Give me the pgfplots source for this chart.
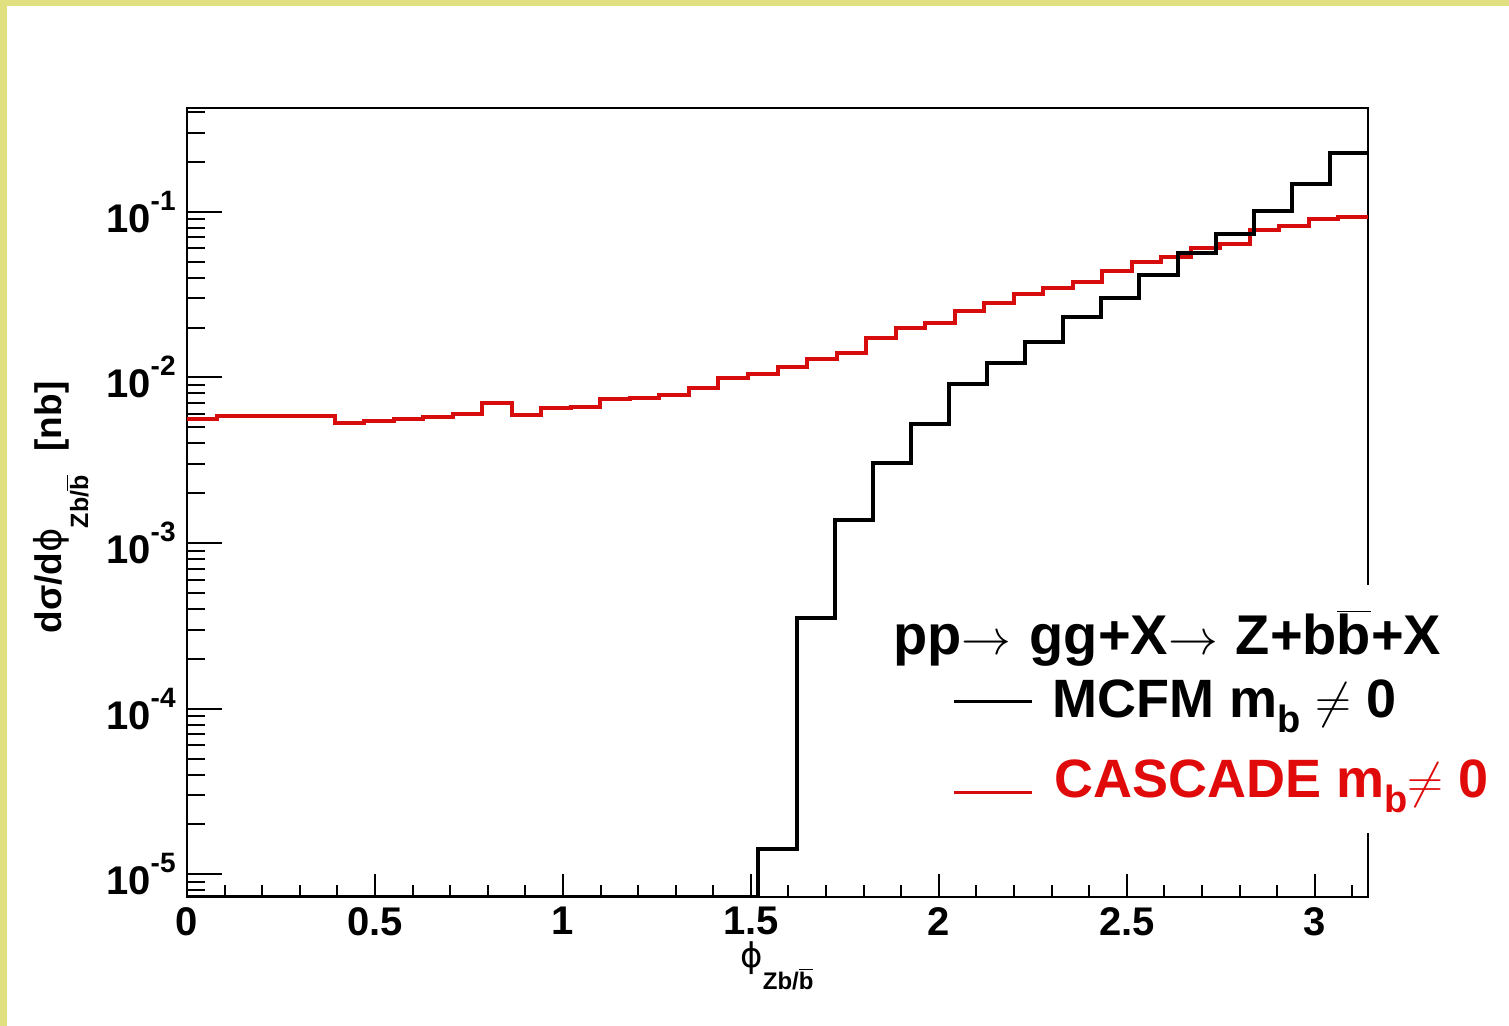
\documentclass[border=0pt]{standalone}
\usepackage{pgfplots}
\pgfplotsset{compat=1.18}
\usepackage{fontspec}
\setmainfont{Liberation Sans}
\newfontfamily\dvs{DejaVu Sans}
\definecolor{frameyel}{RGB}{224,224,128}
\definecolor{histred}{RGB}{215,12,12}
\definecolor{txtred}{RGB}{225,10,10}
\newcommand{\bb}{\ensuremath{\overline{\hbox{b}}}}
\newcommand{\ex}[1]{\raisebox{0.55em}{\fontsize{14}{14}\selectfont #1}}
\newcommand{\phis}{{\dvs\mdseries ϕ}}

\pgfplotstableread{
x y
0.00000 5.61e-3
0.07854 5.85e-3
0.15708 5.85e-3
0.23562 5.85e-3
0.31416 5.85e-3
0.39270 5.33e-3
0.47124 5.46e-3
0.54978 5.61e-3
0.62832 5.80e-3
0.70686 6.02e-3
0.78540 6.98e-3
0.86394 5.93e-3
0.94248 6.55e-3
1.02102 6.60e-3
1.09956 7.38e-3
1.17810 7.55e-3
1.25664 7.83e-3
1.33518 8.60e-3
1.41372 9.90e-3
1.49226 1.045e-2
1.57080 1.16e-2
1.64934 1.30e-2
1.72788 1.40e-2
1.80642 1.72e-2
1.88496 1.98e-2
1.96350 2.14e-2
2.04204 2.53e-2
2.12058 2.81e-2
2.19911 3.20e-2
2.27765 3.46e-2
2.35619 3.79e-2
2.43473 4.40e-2
2.51327 4.94e-2
2.59181 5.33e-2
2.67035 6.04e-2
2.74889 6.41e-2
2.82743 7.71e-2
2.90597 8.15e-2
2.98451 9.07e-2
3.06305 9.29e-2
3.14159 9.29e-2
}\cascade

\pgfplotstableread{
x y
0.00000 7.3e-6
1.52013 1.42e-5
1.62147 3.52e-4
1.72281 1.38e-3
1.82416 3.06e-3
1.92550 5.26e-3
2.02684 9.10e-3
2.12818 1.22e-2
2.22952 1.64e-2
2.33087 2.33e-2
2.43221 3.01e-2
2.53355 4.16e-2
2.63489 5.63e-2
2.73623 7.33e-2
2.83758 0.101
2.93892 0.148
3.04026 0.225
3.14159 0.225
}\mcfm

\begin{document}
\begin{tikzpicture}
\useasboundingbox (0,0) rectangle (754.5pt,513pt);
\fill[frameyel] (0,0) rectangle (754.5pt,513pt);
\fill[white] (3.5pt,0) rectangle (754.5pt,510pt);

% axis with y ticks
\begin{axis}[
  at={(93.5pt,64.5pt)}, anchor=south west, scale only axis,
  width=590.5pt, height=394.5pt,
  xmin=0, xmax=3.14159, ymode=log, ymin=7.3e-6, ymax=0.423,
  axis line style={line width=1pt},
  xtick=\empty,
  ytick={1e-5,1e-4,1e-3,1e-2,1e-1},
  yticklabels={10\ex{-5},10\ex{-4},10\ex{-3},10\ex{-2},10\ex{-1}},
  minor ytick={8e-6,9e-6,2e-5,3e-5,4e-5,5e-5,6e-5,7e-5,8e-5,9e-5,2e-4,3e-4,4e-4,5e-4,6e-4,7e-4,8e-4,9e-4,2e-3,3e-3,4e-3,5e-3,6e-3,7e-3,8e-3,9e-3,2e-2,3e-2,4e-2,5e-2,6e-2,7e-2,8e-2,9e-2,2e-1,3e-1,4e-1},
  ytick pos=left, tick align=inside,
  major tick length=17.5pt, minor tick length=9pt,
  tick style={line width=1pt, black},
  yticklabel style={font=\fontsize{20}{24}\selectfont\bfseries, inner sep=0pt, xshift=-5.5pt},
]
\end{axis}

% axis with x ticks and data
\begin{axis}[
  at={(93.5pt,64.5pt)}, anchor=south west, scale only axis,
  width=590.5pt, height=394.5pt,
  xmin=0, xmax=3.14159, ymode=log, ymin=7.3e-6, ymax=0.423,
  axis line style={line width=1pt},
  ytick=\empty,
  xtick={0,0.5,1,1.5,2,2.5,3},
  xticklabels={0,0.5,1,1.5,2,2.5,3},
  minor xtick={0.1,0.2,0.3,0.4,0.6,0.7,0.8,0.9,1.1,1.2,1.3,1.4,1.6,1.7,1.8,1.9,2.1,2.2,2.3,2.4,2.6,2.7,2.8,2.9,3.1},
  xtick pos=bottom, tick align=inside,
  major tick length=11.5pt, minor tick length=6pt,
  tick style={line width=1pt, black},
  xticklabel style={font=\fontsize{20}{24}\selectfont\bfseries, inner sep=0pt, yshift=-5pt},
]
\addplot[const plot, histred, line width=2pt] table[x=x,y=y] {\cascade};
\addplot[const plot, black, line width=2pt] table[x=x,y=y] {\mcfm};
\end{axis}

% legend box
\fill[white] (445pt,96.5pt) rectangle (750pt,220.5pt);
\node[anchor=base west, inner sep=0pt] at (446.5pt,185.5pt)
  {\fontsize{28}{30}\selectfont\bfseries pp$\rightarrow$\hspace{9pt}gg+X$\rightarrow$\hspace{9pt}Z+b\bb+X};
\draw[black, line width=1.5pt] (477pt,162pt) -- (516pt,162pt);
\node[anchor=base west, inner sep=0pt] at (526pt,154pt)
  {\fontsize{27}{30}\selectfont\bfseries MCFM m\raisebox{-7.5pt}{\fontsize{19}{19}\selectfont b} $\neq$ 0};
\draw[histred, line width=1.5pt] (477pt,116.5pt) -- (516pt,116.5pt);
\node[anchor=base west, inner sep=0pt, text=txtred] at (527pt,114pt)
  {\fontsize{27}{30}\selectfont\bfseries CASCADE m\raisebox{-7.5pt}{\fontsize{19}{19}\selectfont b}$\neq$ 0};

% axis titles
\node[anchor=base west, inner sep=0pt] at (370pt,29pt)
  {\fontsize{17}{20}\selectfont\bfseries \phis\raisebox{-11pt}{\fontsize{12}{12}\selectfont Zb/\bb}};
\node[rotate=90, anchor=base, inner sep=0pt] at (31pt,259.25pt)
  {\fontsize{18.5}{20}\selectfont\bfseries dσ/d\phis\raisebox{-13pt}{\fontsize{12.5}{13}\selectfont Zb/\bb}\hspace{12pt}[nb]};
\end{tikzpicture}
\end{document}
